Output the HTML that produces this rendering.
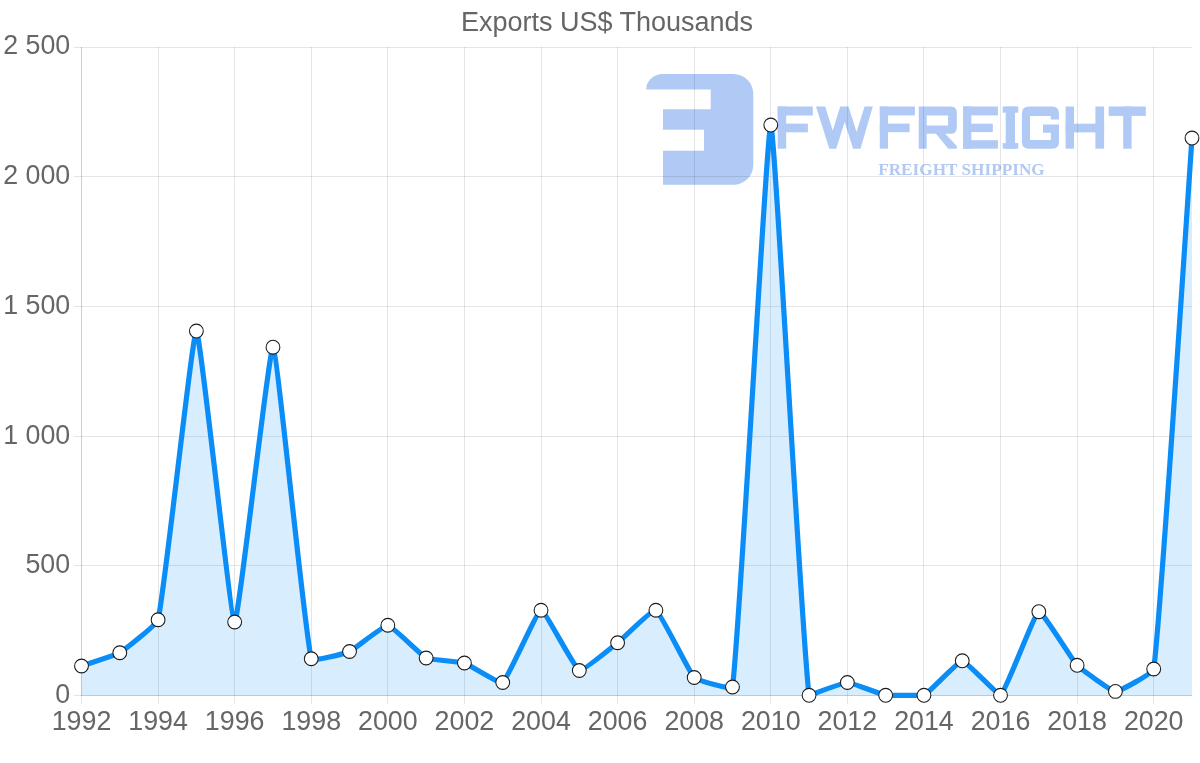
<!DOCTYPE html>
<html><head><meta charset="utf-8"><title>Exports US$ Thousands</title>
<style>
html,body{margin:0;padding:0;background:#fff;}
body{width:1200px;height:763px;overflow:hidden;font-family:"Liberation Sans",sans-serif;}
svg{display:block;will-change:transform}
svg text{font-family:"Liberation Sans",sans-serif;}
.sub{font-family:"Liberation Serif",serif;font-weight:bold;}
</style></head><body>
<svg width="1200" height="763" viewBox="0 0 1200 763">
<rect width="1200" height="763" fill="#fff"/>

<g fill="#b0caf5">
<path d="M646.2 89.5 A16.8 15.5 0 0 1 663 74 L733.3 74 A20 20 0 0 1 753.3 94 L753.3 164.8 A20 20 0 0 1 733.3 184.8 L663 184.8 L663 150.8 L704 150.8 L704 129.7 L663 129.7 L663 109.2 L710.7 109.2 L710.7 89.5 Z"/>
<rect x="777.70" y="106.50" width="8.50" height="42.20"/>
<rect x="777.70" y="106.50" width="35.10" height="9.00"/>
<rect x="777.70" y="123.60" width="30.20" height="8.70"/>
<polygon points="816,106.5 825.2,106.5 832.75,130.5 840.3,106.5 848.5,106.5 856.55,132.1 864.6,106.5 872.8,106.5 860.5,148.7 853.1,148.7 844.65,121.9 836.2,148.7 829.3,148.7"/>
<rect x="879.80" y="106.50" width="8.20" height="42.20"/>
<rect x="879.80" y="106.50" width="35.10" height="8.90"/>
<rect x="879.80" y="123.60" width="29.80" height="8.60"/>
<path fill-rule="evenodd" d="M918.75 106.5 L950.8 106.5 Q956.8 106.5 956.8 112.5 L956.8 127.7 Q956.8 133.75 950.8 133.75 L945.2 133.75 L956.8 146 L956.8 148.7 L948.3 148.7 L936 133.75 L926.7 133.75 L926.7 148.7 L918.75 148.7 Z M926.7 115.4 L948.1 115.4 L948.1 125.5 L926.7 125.5 Z"/>
<rect x="963.10" y="106.50" width="8.20" height="42.20"/>
<rect x="963.10" y="106.50" width="34.80" height="8.90"/>
<rect x="963.10" y="123.70" width="29.70" height="8.40"/>
<rect x="963.10" y="140.20" width="34.80" height="8.50"/>
<rect x="1002.70" y="106.50" width="15.55" height="6.20"/>
<rect x="1005.70" y="106.50" width="9.30" height="42.20"/>
<rect x="1002.70" y="143.10" width="15.55" height="5.60"/>
<path d="M1029 106.5 L1052 106.5 Q1059 106.5 1059 113.5 L1059 119.5 L1050.8 119.5 L1050.8 115.9 L1030 115.9 L1030 140 L1050.8 140 L1050.8 132.8 L1043 132.8 L1043 124.6 L1059 124.6 L1059 141.7 Q1059 148.7 1052 148.7 L1029 148.7 Q1021.9 148.7 1021.9 141.7 L1021.9 113.5 Q1021.9 106.5 1029 106.5 Z"/>
<rect x="1065.60" y="106.50" width="8.40" height="42.20"/>
<rect x="1095.40" y="106.50" width="8.70" height="42.20"/>
<rect x="1065.60" y="123.70" width="38.50" height="8.70"/>
<rect x="1108.70" y="106.50" width="37.10" height="9.40"/>
<rect x="1123.20" y="106.50" width="8.40" height="42.20"/>
</g>
<text class="sub" x="878.2" y="174.8" font-size="16.6" textLength="166.5" lengthAdjust="spacingAndGlyphs" fill="#b3c9f2">FREIGHT SHIPPING</text>
<g stroke="rgba(0,0,0,0.1)" stroke-width="1" fill="none">
<line x1="73.8" y1="695.50" x2="1192.20" y2="695.50"/>
<line x1="73.8" y1="565.50" x2="1192.20" y2="565.50"/>
<line x1="73.8" y1="436.50" x2="1192.20" y2="436.50"/>
<line x1="73.8" y1="306.50" x2="1192.20" y2="306.50"/>
<line x1="73.8" y1="176.50" x2="1192.20" y2="176.50"/>
<line x1="73.8" y1="47.50" x2="1192.20" y2="47.50"/>
<line x1="81.50" y1="47" x2="81.50" y2="703.8"/>
<line x1="158.50" y1="47" x2="158.50" y2="703.8"/>
<line x1="234.50" y1="47" x2="234.50" y2="703.8"/>
<line x1="311.50" y1="47" x2="311.50" y2="703.8"/>
<line x1="387.50" y1="47" x2="387.50" y2="703.8"/>
<line x1="464.50" y1="47" x2="464.50" y2="703.8"/>
<line x1="541.50" y1="47" x2="541.50" y2="703.8"/>
<line x1="617.50" y1="47" x2="617.50" y2="703.8"/>
<line x1="694.50" y1="47" x2="694.50" y2="703.8"/>
<line x1="770.50" y1="47" x2="770.50" y2="703.8"/>
<line x1="847.50" y1="47" x2="847.50" y2="703.8"/>
<line x1="923.50" y1="47" x2="923.50" y2="703.8"/>
<line x1="1000.50" y1="47" x2="1000.50" y2="703.8"/>
<line x1="1077.50" y1="47" x2="1077.50" y2="703.8"/>
<line x1="1153.50" y1="47" x2="1153.50" y2="703.8"/>
<line x1="81.5" y1="47" x2="81.5" y2="696"/>
<line x1="81" y1="695.5" x2="1192.20" y2="695.5"/>
</g>
<path d="M81.50 695.30 L81.50 666.00 C85.33 664.67 116.39 654.81 119.79 652.75 C124.04 650.18 156.95 624.51 158.09 619.75 C164.61 592.33 192.56 330.89 196.38 331.00 C200.22 331.11 230.74 621.17 234.67 622.00 C238.39 622.79 269.37 345.48 272.97 347.20 C277.03 349.15 304.45 631.68 311.26 658.75 C312.10 662.11 346.06 653.03 349.55 651.50 C353.72 649.68 384.17 624.94 387.84 625.25 C391.83 625.59 421.80 655.86 426.14 658.00 C429.46 659.64 460.81 661.84 464.43 663.00 C468.46 664.29 500.09 684.32 502.72 682.50 C507.74 679.04 536.93 610.89 541.02 610.25 C544.59 609.69 574.70 668.55 579.31 670.50 C582.36 671.80 613.89 645.67 617.60 642.75 C621.55 639.65 652.88 608.88 655.90 610.25 C660.54 612.36 689.12 672.42 694.19 677.50 C696.78 680.09 731.98 690.62 732.48 687.00 C739.64 635.37 766.97 124.59 770.78 125.00 C774.63 125.42 801.92 643.23 809.07 695.30 C809.57 695.30 843.53 682.50 847.36 682.50 C851.19 682.50 881.72 694.64 885.66 695.30 C889.38 695.30 920.68 695.30 923.95 695.30 C928.34 693.32 958.41 660.80 962.24 660.80 C966.07 660.80 997.78 695.30 1000.53 695.30 C1005.44 692.15 1034.37 613.45 1038.83 611.70 C1042.02 610.45 1072.62 660.62 1077.12 665.30 C1080.28 668.59 1111.50 691.21 1115.41 691.40 C1119.16 691.58 1153.12 673.26 1153.71 669.00 C1160.78 617.92 1188.17 191.10 1192.00 138.00 L1192.00 695.30 Z" fill="rgba(14,142,245,0.16)"/>
<path d="M81.50 666.00 C85.33 664.67 116.39 654.81 119.79 652.75 C124.04 650.18 156.95 624.51 158.09 619.75 C164.61 592.33 192.56 330.89 196.38 331.00 C200.22 331.11 230.74 621.17 234.67 622.00 C238.39 622.79 269.37 345.48 272.97 347.20 C277.03 349.15 304.45 631.68 311.26 658.75 C312.10 662.11 346.06 653.03 349.55 651.50 C353.72 649.68 384.17 624.94 387.84 625.25 C391.83 625.59 421.80 655.86 426.14 658.00 C429.46 659.64 460.81 661.84 464.43 663.00 C468.46 664.29 500.09 684.32 502.72 682.50 C507.74 679.04 536.93 610.89 541.02 610.25 C544.59 609.69 574.70 668.55 579.31 670.50 C582.36 671.80 613.89 645.67 617.60 642.75 C621.55 639.65 652.88 608.88 655.90 610.25 C660.54 612.36 689.12 672.42 694.19 677.50 C696.78 680.09 731.98 690.62 732.48 687.00 C739.64 635.37 766.97 124.59 770.78 125.00 C774.63 125.42 801.92 643.23 809.07 695.30 C809.57 695.30 843.53 682.50 847.36 682.50 C851.19 682.50 881.72 694.64 885.66 695.30 C889.38 695.30 920.68 695.30 923.95 695.30 C928.34 693.32 958.41 660.80 962.24 660.80 C966.07 660.80 997.78 695.30 1000.53 695.30 C1005.44 692.15 1034.37 613.45 1038.83 611.70 C1042.02 610.45 1072.62 660.62 1077.12 665.30 C1080.28 668.59 1111.50 691.21 1115.41 691.40 C1119.16 691.58 1153.12 673.26 1153.71 669.00 C1160.78 617.92 1188.17 191.10 1192.00 138.00" fill="none" stroke="#0b8df7" stroke-width="5.2" stroke-linejoin="miter" stroke-linecap="butt"/>
<g fill="#fff" stroke="#1a1a1a" stroke-width="1.05">
<circle cx="81.50" cy="666.00" r="6.9"/>
<circle cx="119.79" cy="652.75" r="6.9"/>
<circle cx="158.09" cy="619.75" r="6.9"/>
<circle cx="196.38" cy="331.00" r="6.9"/>
<circle cx="234.67" cy="622.00" r="6.9"/>
<circle cx="272.97" cy="347.20" r="6.9"/>
<circle cx="311.26" cy="658.75" r="6.9"/>
<circle cx="349.55" cy="651.50" r="6.9"/>
<circle cx="387.84" cy="625.25" r="6.9"/>
<circle cx="426.14" cy="658.00" r="6.9"/>
<circle cx="464.43" cy="663.00" r="6.9"/>
<circle cx="502.72" cy="682.50" r="6.9"/>
<circle cx="541.02" cy="610.25" r="6.9"/>
<circle cx="579.31" cy="670.50" r="6.9"/>
<circle cx="617.60" cy="642.75" r="6.9"/>
<circle cx="655.90" cy="610.25" r="6.9"/>
<circle cx="694.19" cy="677.50" r="6.9"/>
<circle cx="732.48" cy="687.00" r="6.9"/>
<circle cx="770.78" cy="125.00" r="6.9"/>
<circle cx="809.07" cy="695.30" r="6.9"/>
<circle cx="847.36" cy="682.50" r="6.9"/>
<circle cx="885.66" cy="695.30" r="6.9"/>
<circle cx="923.95" cy="695.30" r="6.9"/>
<circle cx="962.24" cy="660.80" r="6.9"/>
<circle cx="1000.53" cy="695.30" r="6.9"/>
<circle cx="1038.83" cy="611.70" r="6.9"/>
<circle cx="1077.12" cy="665.30" r="6.9"/>
<circle cx="1115.41" cy="691.40" r="6.9"/>
<circle cx="1153.71" cy="669.00" r="6.9"/>
<circle cx="1192.00" cy="138.00" r="6.9"/>
</g>
<g fill="#666" font-size="26.8" >
<text x="607" y="30.7" font-size="27" text-anchor="middle">Exports US$ Thousands</text>
<text x="70.2" y="702.60" text-anchor="end">0</text>
<text x="70.2" y="572.75" text-anchor="end">500</text>
<text x="70.2" y="443.75" text-anchor="end">1 000</text>
<text x="70.2" y="313.75" text-anchor="end">1 500</text>
<text x="70.2" y="183.75" text-anchor="end">2 000</text>
<text x="70.2" y="53.75" text-anchor="end">2 500</text>
<text x="81.50" y="729.8" text-anchor="middle">1992</text>
<text x="158.09" y="729.8" text-anchor="middle">1994</text>
<text x="234.67" y="729.8" text-anchor="middle">1996</text>
<text x="311.26" y="729.8" text-anchor="middle">1998</text>
<text x="387.84" y="729.8" text-anchor="middle">2000</text>
<text x="464.43" y="729.8" text-anchor="middle">2002</text>
<text x="541.02" y="729.8" text-anchor="middle">2004</text>
<text x="617.60" y="729.8" text-anchor="middle">2006</text>
<text x="694.19" y="729.8" text-anchor="middle">2008</text>
<text x="770.78" y="729.8" text-anchor="middle">2010</text>
<text x="847.36" y="729.8" text-anchor="middle">2012</text>
<text x="923.95" y="729.8" text-anchor="middle">2014</text>
<text x="1000.53" y="729.8" text-anchor="middle">2016</text>
<text x="1077.12" y="729.8" text-anchor="middle">2018</text>
<text x="1153.71" y="729.8" text-anchor="middle">2020</text>
</g>
</svg></body></html>
